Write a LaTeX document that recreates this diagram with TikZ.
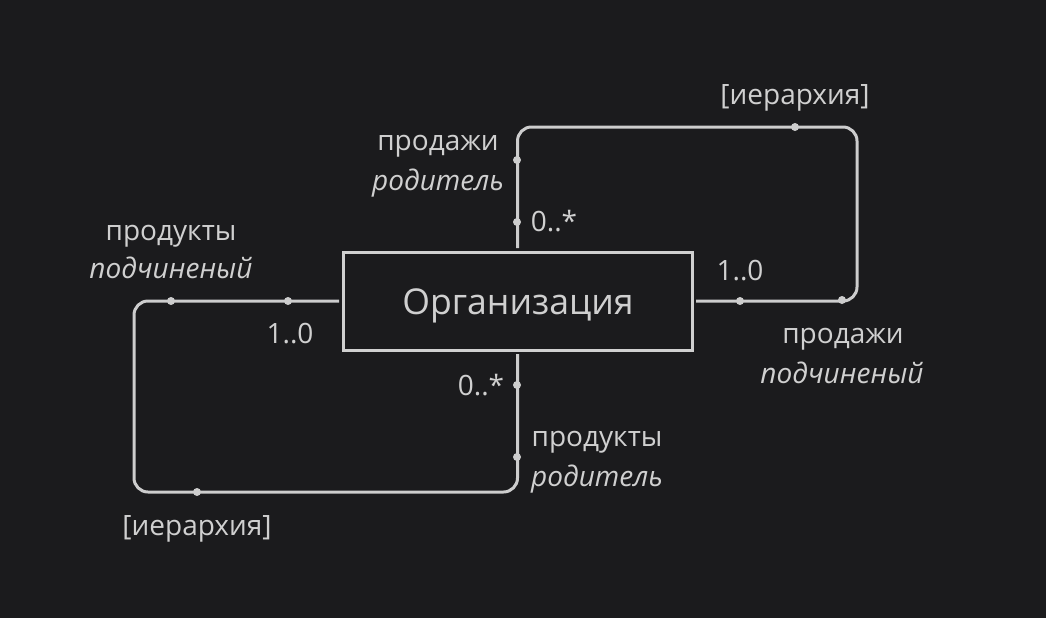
\documentclass[tikz,border=0pt]{standalone}
\usepackage{fontspec}
\setmainfont{Open Sans}
\definecolor{bg}{HTML}{1B1B1D}
\definecolor{fg}{HTML}{D0D0D0}
\definecolor{ln}{HTML}{CDCDCD}
\begin{document}
\begin{tikzpicture}[x=0.75pt,y=-0.75pt,
  lbl/.style={text=fg,anchor=base,inner sep=0pt,font=\fontsize{21}{25}\selectfont},
  ilbl/.style={lbl,font=\fontsize{21}{25}\selectfont\itshape},
  entity/.style={draw=fg,line width=2.25pt,fill=bg,text=fg,minimum width=349*0.75pt,minimum height=98*0.75pt,inner sep=0pt,outer sep=3pt,font=\fontsize{26.7}{31}\selectfont},
  conn/.style={draw=ln,line width=2.25pt,rounded corners=10.5pt},
  dot/.style={fill=ln}]
\fill[bg] (0,0) rectangle (1046,618);
\useasboundingbox (0,0) rectangle (1046,618);
\node[entity] (org) at (517.5,301) {};
\node[text=fg,anchor=base,inner sep=0pt,font=\fontsize{26.7}{31}\selectfont] (orgtxt) at (518,314) {Организация};
% upper loop
\coordinate (tr) at (857,127);
\draw[conn] (org.north) |- (tr) |- (org.east);
% lower loop
\coordinate (bl) at (134,492);
\draw[conn] (org.west) -| (bl) -| (org.south);
% dots
\foreach \p in {(517,160),(517,222),(795,127),(740,301),(842,300),(171,301),(288,301),(197,492),(517,385),(517,457)}
  \fill[dot] \p circle (3pt);
% labels
\node[lbl] (h1) at (795,104) {[иерархия]};
\node[lbl] (s1) at (438,150) {продажи};
\node[ilbl] (s2) at (438,190) {родитель};
\node[lbl] (m1) at (554,231) {0..*};
\node[lbl] (m2) at (740,280) {1..0};
\node[lbl] (s3) at (843,343) {продажи};
\node[ilbl] (s4) at (842,383) {подчиненый};
\node[lbl] (p1) at (171,240) {продукты};
\node[ilbl] (p2) at (171,278) {подчиненый};
\node[lbl] (m3) at (290,343) {1..0};
\node[lbl] (m4) at (481,395) {0..*};
\node[lbl] (p3) at (597,446) {продукты};
\node[ilbl] (p4) at (597,486) {родитель};
\node[lbl] (h2) at (197,535) {[иерархия]};
\end{tikzpicture}
\end{document}
